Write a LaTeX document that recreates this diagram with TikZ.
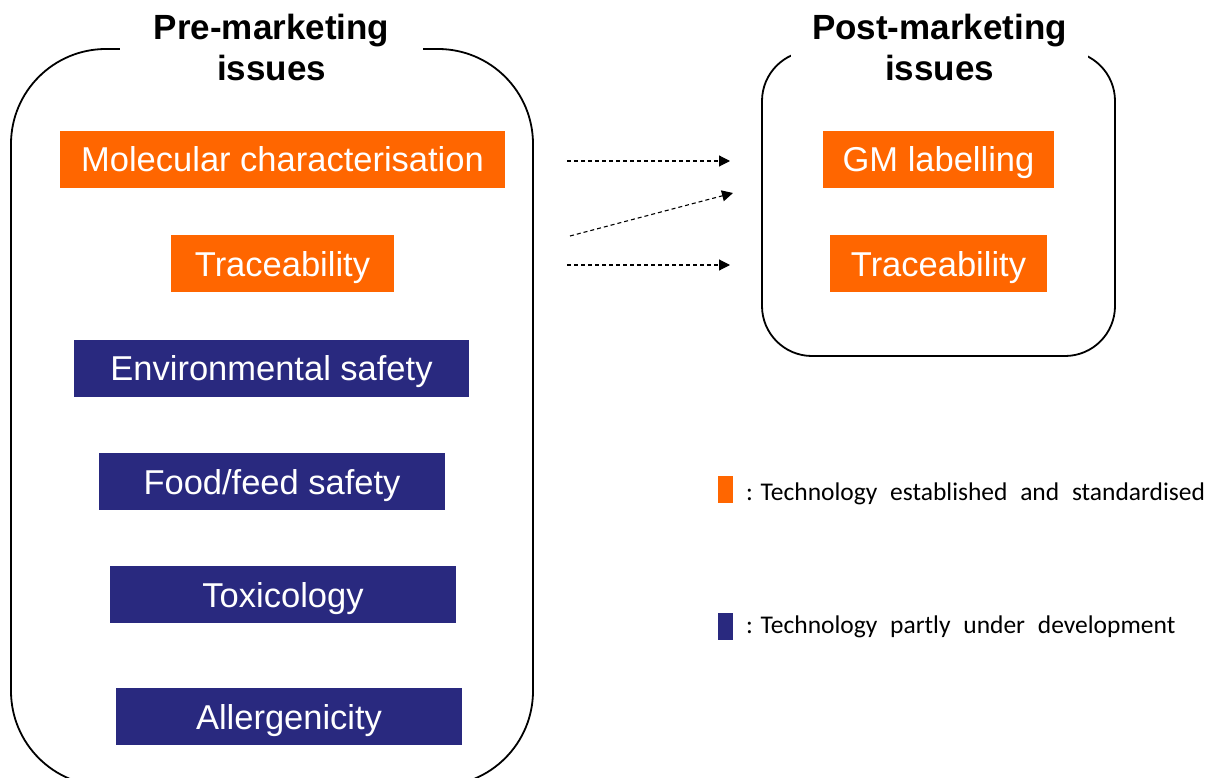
\documentclass[tikz,border=0pt]{standalone}
\usepackage{fontspec}
\setmainfont{Liberation Sans}
\newfontfamily\legendfont{Carlito}
\usetikzlibrary{arrows.meta}
\definecolor{orng}{RGB}{255,102,0}
\definecolor{navy}{RGB}{41,41,127}
\begin{document}
\begin{tikzpicture}[x=1pt,y=-1pt,
  issue/.style={fill=#1, text=white, inner sep=0pt, minimum height=57pt,
    font=\fontsize{34.5}{40}\selectfont, text height=25pt, text depth=0pt},
  frame/.style={draw=black, line width=1.8pt},
  title/.style={font=\fontsize{35}{41}\selectfont\bfseries, align=center, fill=white, inner sep=0pt, anchor=base},
  flow/.style={dash pattern=on 4pt off 3pt, line width=1.1pt, -{Triangle[length=11pt,width=11pt]}},
  legkey/.style={fill=#1, inner sep=0pt, minimum width=15pt, minimum height=27pt},
  legtext/.style={font=\legendfont\fontsize{25.5}{28}\selectfont, anchor=base west, inner sep=0pt}
]
\useasboundingbox (0,0) rectangle (1220,778);

% frames
\draw[frame, rounded corners=95pt] (423,49) -- (533,49) -- (533,786) -- (11,786) -- (11,49) -- (120,49);
\draw[frame, rounded corners=50pt] (762,51) rectangle (1115,356);

% titles
\node[title, minimum width=303pt] (pre) at (271.5,81) {Pre-marketing\\issues};
\node[title, minimum width=297pt] (post) at (939.5,81) {Post-marketing\\issues};

% pre-marketing issues
\node[issue=orng, minimum width=445pt] (mol) at (282.5,159.5) {Molecular characterisation};
\node[issue=orng, minimum width=223pt] (trl) at (282.5,263.5) {Traceability};
\node[issue=navy, minimum width=395pt] (env) at (271.5,368) {Environmental safety};
\node[issue=navy, minimum width=346pt] (food) at (272,481.5) {Food/feed safety};
\node[issue=navy, minimum width=346pt] (tox) at (283,594.5) {Toxicology};
\node[issue=navy, minimum width=346pt] (all) at (289,716.5) {Allergenicity};

% post-marketing issues
\node[issue=orng, minimum width=231pt] (gm) at (938.5,159.5) {GM labelling};
\node[issue=orng, minimum width=217pt] (trr) at (938.5,263.5) {Traceability};

% arrows
\coordinate (a1s) at (567,161);
\coordinate (a1e) at (730,161);
\coordinate (a2s) at (570,236);
\coordinate (a2e) at (733,193);
\coordinate (a3s) at (567,265);
\coordinate (a3e) at (730,265);
\draw[flow] (a1s) -- (a1e);
\draw[flow] (a2s) -- (a2e);
\draw[flow] (a3s) -- (a3e);

% legend
\node[legkey=orng] (ko) at (725.5,489.5) {};
\node[legkey=navy] (kn) at (725.5,626) {};
\node[legtext] (lo) at (746,500) {: Technology\hspace{7pt} established\hspace{7pt} and\hspace{7pt} standardised};
\node[legtext] (ln) at (746,633) {: Technology\hspace{7pt} partly\hspace{7pt} under\hspace{7pt} development};
\end{tikzpicture}
\end{document}
